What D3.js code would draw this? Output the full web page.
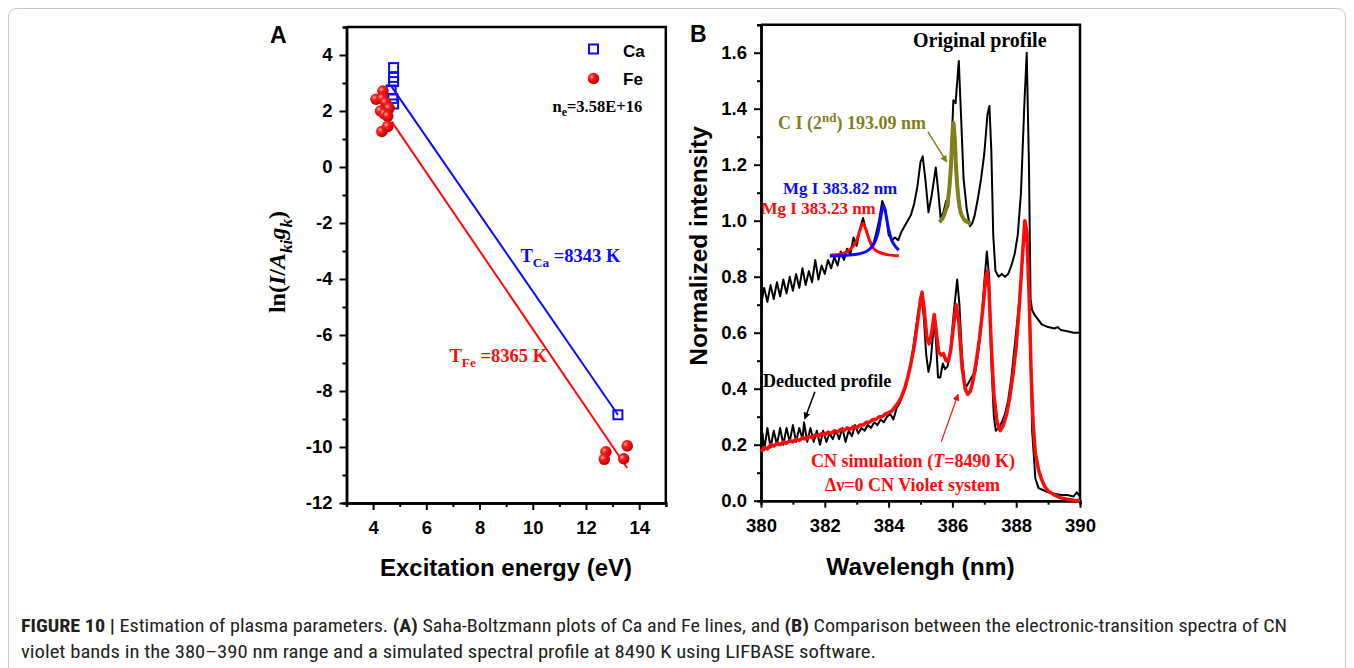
<!DOCTYPE html>
<html>
<head>
<meta charset="utf-8">
<script src="https://cdn.jsdelivr.net/npm/d3@7"></script>
<style>
  body { margin: 0; background: #fff; }
  svg { display: block; font-family: "Liberation Sans", Arial, sans-serif; }
  .serif { font-family: "Liberation Serif", "Times New Roman", serif; font-weight: bold; }
</style>
</head>
<body>
<svg id="fig" width="1354" height="668"></svg>
<script>
// ---- panel A : Saha-Boltzmann plot (excitation energy eV, ln(I/Aki gk))
const caPoints = [[4.77, 3.55], [4.77, 3.2], [4.77, 3.05], [4.68, 2.75], [4.74, 2.45], [4.77, 2.25], [13.2, -8.85]];
const fePoints = [[4.11, 2.42], [4.37, 2.71], [4.35, 2.45], [4.47, 2.3], [4.6, 2.1], [4.28, 2.0],
                  [4.42, 1.9], [4.55, 1.82], [4.33, 1.27], [4.55, 1.45],
                  [12.75, -10.17], [12.69, -10.44], [13.55, -9.96], [13.42, -10.42]];
const caFit = [[4.7, 2.86], [13.2, -8.85]];
const feFit = [[4.7, 1.62], [13.55, -10.75]];
const xTicksA = [4, 6, 8, 10, 12, 14];
const xMinorA = [3, 5, 7, 9, 11, 13, 15];
const yTicksA = [-12, -10, -8, -6, -4, -2, 0, 2, 4];
const yMinorA = [-11, -9, -7, -5, -3, -1, 1, 3];

// ---- panel B : spectra (wavelength nm, normalized intensity)
const originalProfile = [
  [380.0, 0.70], [380.1, 0.76], [380.2, 0.71], [380.3, 0.77], [380.4, 0.72], [380.5, 0.78], [380.6, 0.73],
  [380.7, 0.79], [380.8, 0.74], [380.9, 0.80], [381.0, 0.75], [381.1, 0.81], [381.2, 0.76], [381.3, 0.83],
  [381.4, 0.77], [381.5, 0.82], [381.6, 0.78], [381.7, 0.86], [381.8, 0.79], [381.9, 0.84], [382.0, 0.81],
  [382.1, 0.86], [382.2, 0.83], [382.3, 0.87], [382.4, 0.84], [382.5, 0.89], [382.6, 0.86], [382.7, 0.90],
  [382.8, 0.88], [382.9, 0.94], [383.0, 0.91], [383.1, 0.97], [383.2, 1.01], [383.3, 0.96], [383.4, 0.93],
  [383.5, 0.91], [383.6, 0.95], [383.7, 1.00], [383.8, 1.07], [383.9, 1.04], [384.0, 0.95], [384.1, 0.93],
  [384.2, 0.94], [384.3, 0.93], [384.4, 0.96], [384.5, 0.98], [384.6, 1.00], [384.7, 1.02], [384.8, 1.06],
  [384.9, 1.12], [385.0, 1.21], [385.07, 1.23], [385.15, 1.15], [385.25, 1.03], [385.35, 1.09], [385.48, 1.19],
  [385.56, 1.10], [385.63, 1.01], [385.72, 1.03], [385.8, 1.07], [385.87, 1.05], [385.95, 1.20], [386.03, 1.43],
  [386.1, 1.42], [386.2, 1.57], [386.28, 1.35], [386.35, 1.15], [386.45, 1.04], [386.55, 0.98], [386.62, 0.99],
  [386.7, 1.02], [386.8, 1.08], [386.9, 1.15], [387.0, 1.24], [387.1, 1.38], [387.16, 1.41], [387.22, 1.25],
  [387.28, 0.95], [387.35, 0.82], [387.45, 0.80], [387.55, 0.81], [387.65, 0.80], [387.75, 0.81], [387.85, 0.84],
  [387.95, 0.88], [388.05, 0.95], [388.15, 1.10], [388.25, 1.40], [388.33, 1.60], [388.4, 1.20], [388.45, 0.72],
  [388.5, 0.68], [388.6, 0.66], [388.8, 0.63], [389.0, 0.62], [389.2, 0.615], [389.3, 0.62], [389.4, 0.61],
  [389.6, 0.605], [389.8, 0.60], [390.0, 0.60]
];
const deductedProfile = [
  [380.0, 0.20], [380.05, 0.24], [380.1, 0.18], [380.2, 0.26], [380.3, 0.19], [380.4, 0.25], [380.5, 0.20],
  [380.6, 0.26], [380.7, 0.20], [380.8, 0.26], [380.9, 0.21], [381.0, 0.27], [381.1, 0.21], [381.2, 0.26],
  [381.3, 0.22], [381.35, 0.28], [381.45, 0.21], [381.55, 0.26], [381.65, 0.21], [381.75, 0.25], [381.85, 0.20],
  [381.95, 0.25], [382.05, 0.21], [382.15, 0.24], [382.25, 0.22], [382.35, 0.25], [382.45, 0.22], [382.55, 0.26],
  [382.65, 0.21], [382.75, 0.25], [382.85, 0.23], [382.95, 0.27], [383.05, 0.24], [383.15, 0.26], [383.25, 0.25],
  [383.35, 0.27], [383.45, 0.26], [383.55, 0.28], [383.65, 0.27], [383.75, 0.29], [383.85, 0.28], [383.95, 0.30],
  [384.05, 0.31], [384.15, 0.29], [384.25, 0.33], [384.35, 0.35], [384.45, 0.38], [384.55, 0.41], [384.65, 0.46],
  [384.75, 0.53], [384.85, 0.61], [384.95, 0.69], [385.03, 0.73], [385.1, 0.66], [385.18, 0.52], [385.25, 0.46],
  [385.32, 0.50], [385.42, 0.63], [385.48, 0.58], [385.55, 0.44], [385.62, 0.44], [385.7, 0.49], [385.77, 0.47],
  [385.85, 0.48], [385.95, 0.55], [386.05, 0.68], [386.15, 0.79], [386.22, 0.70], [386.3, 0.52], [386.38, 0.42],
  [386.45, 0.41], [386.55, 0.43], [386.65, 0.45], [386.72, 0.46], [386.8, 0.52], [386.9, 0.62], [387.0, 0.78],
  [387.08, 0.89], [387.15, 0.80], [387.22, 0.50], [387.3, 0.30], [387.36, 0.25], [387.45, 0.26], [387.55, 0.28],
  [387.65, 0.31], [387.75, 0.36], [387.85, 0.44], [387.95, 0.55], [388.05, 0.66], [388.15, 0.78], [388.22, 0.92],
  [388.28, 1.00], [388.35, 0.95], [388.42, 0.70], [388.5, 0.25], [388.6, 0.08], [388.7, 0.045], [388.8, 0.04],
  [389.0, 0.03], [389.2, 0.025], [389.4, 0.02], [389.6, 0.02], [389.8, 0.015], [389.9, 0.03], [390.0, 0.015]
];
const cnSimulation = [
  [380.0, 0.175], [380.1, 0.19], [380.2, 0.185], [380.3, 0.20], [380.4, 0.195], [380.5, 0.205], [380.6, 0.20],
  [380.7, 0.21], [380.8, 0.205], [380.9, 0.215], [381.0, 0.21], [381.1, 0.22], [381.2, 0.215], [381.3, 0.225],
  [381.4, 0.22], [381.5, 0.23], [381.6, 0.225], [381.7, 0.235], [381.8, 0.23], [381.9, 0.24], [382.0, 0.235],
  [382.1, 0.245], [382.2, 0.24], [382.3, 0.25], [382.4, 0.245], [382.5, 0.255], [382.6, 0.25], [382.7, 0.26],
  [382.8, 0.255], [382.9, 0.265], [383.0, 0.26], [383.1, 0.27], [383.2, 0.27], [383.3, 0.28], [383.4, 0.28],
  [383.5, 0.29], [383.6, 0.29], [383.7, 0.30], [383.8, 0.30], [383.9, 0.31], [384.0, 0.315], [384.1, 0.32],
  [384.2, 0.335], [384.3, 0.35], [384.4, 0.37], [384.5, 0.40], [384.6, 0.44], [384.7, 0.49], [384.8, 0.55],
  [384.9, 0.63], [385.0, 0.72], [385.05, 0.745], [385.12, 0.68], [385.2, 0.58], [385.27, 0.56], [385.35, 0.60],
  [385.43, 0.665], [385.5, 0.60], [385.57, 0.53], [385.65, 0.52], [385.72, 0.525], [385.8, 0.50], [385.88, 0.50],
  [385.95, 0.54], [386.03, 0.62], [386.12, 0.70], [386.2, 0.64], [386.3, 0.48], [386.4, 0.40], [386.48, 0.38],
  [386.56, 0.39], [386.65, 0.43], [386.75, 0.50], [386.85, 0.58], [386.95, 0.68], [387.05, 0.80], [387.1, 0.82],
  [387.15, 0.75], [387.22, 0.55], [387.3, 0.38], [387.4, 0.28], [387.5, 0.25], [387.6, 0.27], [387.7, 0.31],
  [387.8, 0.37], [387.9, 0.45], [388.0, 0.55], [388.1, 0.70], [388.2, 0.88], [388.27, 1.00], [388.33, 0.96],
  [388.4, 0.75], [388.47, 0.45], [388.53, 0.28], [388.6, 0.17], [388.7, 0.11], [388.8, 0.075], [388.9, 0.05],
  [389.0, 0.035], [389.2, 0.02], [389.4, 0.01], [389.6, 0.005], [389.8, 0.002], [390.0, 0.0]
];
const cLine = [[385.59, 0.995], [385.7, 1.01], [385.8, 1.04], [385.88, 1.09], [385.94, 1.17], [385.99, 1.28],
               [386.03, 1.35], [386.07, 1.30], [386.12, 1.18], [386.18, 1.09], [386.26, 1.03], [386.36, 1.005],
               [386.47, 0.995], [386.58, 0.99]];
const mg38323 = [[382.16, 0.877], [382.5, 0.88], [382.7, 0.89], [382.9, 0.91], [383.0, 0.93], [383.1, 0.965],
                 [383.2, 0.99], [383.3, 0.965], [383.4, 0.93], [383.5, 0.905], [383.65, 0.89], [383.8, 0.883],
                 [384.0, 0.878], [384.32, 0.875]];
const mg38382 = [[382.16, 0.874], [382.6, 0.876], [383.0, 0.88], [383.3, 0.89], [383.5, 0.91], [383.65, 0.95],
                 [383.75, 1.01], [383.84, 1.056], [383.92, 1.02], [384.0, 0.97], [384.1, 0.93], [384.2, 0.91],
                 [384.32, 0.895]];
const xTicksB = [380, 382, 384, 386, 388, 390];
const xMinorB = [381, 383, 385, 387, 389];
const yTicksB = [0, 0.2, 0.4, 0.6, 0.8, 1.0, 1.2, 1.4, 1.6];
const yMinorB = [0.1, 0.3, 0.5, 0.7, 0.9, 1.1, 1.3, 1.5];

const BLUE = "#0a0aff", RED = "#ff0a0a", OLIVE = "#80801a";
const SANS = "'Liberation Sans', Arial, sans-serif";

const svg = d3.select("#fig");
svg.append("rect").attr("width", 1354).attr("height", 668).attr("fill", "#fff");
svg.append("rect").attr("x", 8.5).attr("y", 8.5).attr("width", 1337).attr("height", 720).attr("rx", 8)
  .attr("fill", "none").attr("stroke", "#c8c8c8").attr("stroke-width", 1);

const defs = svg.append("defs");
const grad = defs.append("radialGradient").attr("id", "sphere").attr("cx", "35%").attr("cy", "35%").attr("r", "65%");
grad.append("stop").attr("offset", "0%").attr("stop-color", "#ffb0b0");
grad.append("stop").attr("offset", "35%").attr("stop-color", "#ff1a1a");
grad.append("stop").attr("offset", "100%").attr("stop-color", "#c00000");
[["arrK", "#000"], ["arrR", RED], ["arrO", OLIVE]].forEach(([id, c]) => {
  defs.append("marker").attr("id", id).attr("viewBox", "0 0 10 10").attr("refX", 9).attr("refY", 5)
    .attr("markerWidth", 7).attr("markerHeight", 7).attr("markerUnits", "userSpaceOnUse").attr("orient", "auto")
    .append("path").attr("d", "M0,0 L10,5 L0,10 z").attr("fill", c);
});

// text with sub / superscripts: parts = [[text, "sub"|"sup"|null, italic]]
function richText(g, x, y, parts, size, color, anchor) {
  const t = g.append("text").attr("x", x).attr("y", y).attr("class", "serif")
    .attr("font-size", size).attr("fill", color).attr("text-anchor", anchor || "start");
  let shift = 0;
  parts.forEach(([s, kind, it]) => {
    const target = kind === "sub" ? 0.3 * size : kind === "sup" ? -0.38 * size : 0;
    const sp = t.append("tspan").attr("dy", target - shift).text(s);
    if (kind) sp.attr("font-size", size * 0.72);
    if (it) sp.attr("font-style", "italic");
    shift = target;
  });
  return t;
}

function frame(g, x, y, yTicks, yMinor, xTicks, xMinor, fmtY) {
  const [x0, x1] = x.range(), [y0, y1] = y.range();
  g.append("g").attr("transform", `translate(0,${y0})`)
    .call(d3.axisBottom(x).tickValues(xMinor).tickSize(4).tickFormat(""));
  g.append("g").attr("transform", `translate(0,${y0})`)
    .call(d3.axisBottom(x).tickValues(xTicks).tickSize(7).tickPadding(11).tickSizeOuter(0));
  g.append("g").attr("transform", `translate(${x0},0)`)
    .call(d3.axisLeft(y).tickValues(yMinor).tickSize(4).tickFormat(""));
  g.append("g").attr("transform", `translate(${x0},0)`)
    .call(d3.axisLeft(y).tickValues(yTicks).tickSize(7).tickPadding(7).tickSizeOuter(0).tickFormat(fmtY));
  g.selectAll(".tick line").attr("stroke-width", 2);
  g.selectAll(".domain").attr("stroke-width", 2.5);
  g.selectAll(".tick text").attr("font-size", 18.5).attr("font-weight", "bold")
    .attr("font-family", SANS).attr("fill", "#000");
  g.append("path").attr("d", `M${x0},${y1}H${x1}V${y0}`).attr("fill", "none")
    .attr("stroke", "#000").attr("stroke-width", 2.5);
}

// ================= panel A
const gA = svg.append("g");
const xA = d3.scaleLinear().domain([3, 15]).range([346.5, 665.8]);
const yA = d3.scaleLinear().domain([-12, 5]).range([503, 27]);
frame(gA, xA, yA, yTicksA, yMinorA, xTicksA, xMinorA, d => String(d));   // plain hyphen minus like the original

const lineA = d3.line().x(d => xA(d[0])).y(d => yA(d[1]));
gA.append("path").attr("d", lineA(caFit)).attr("stroke", BLUE).attr("stroke-width", 2).attr("fill", "none");
gA.append("path").attr("d", lineA(feFit)).attr("stroke", RED).attr("stroke-width", 2).attr("fill", "none");

gA.selectAll(".ca").data(caPoints).join("rect")
  .attr("x", d => xA(d[0]) - 4.5).attr("y", d => yA(d[1]) - 4.5).attr("width", 9).attr("height", 9)
  .attr("fill", "none").attr("stroke", BLUE).attr("stroke-width", 2);
gA.selectAll(".fe").data(fePoints).join("circle")
  .attr("cx", d => xA(d[0])).attr("cy", d => yA(d[1])).attr("r", 5.8).attr("fill", "url(#sphere)");

gA.append("text").attr("x", 270).attr("y", 43).attr("font-size", 23).attr("font-weight", "bold").text("A");
// legend
gA.append("rect").attr("x", 589).attr("y", 44.5).attr("width", 9).attr("height", 9)
  .attr("fill", "none").attr("stroke", BLUE).attr("stroke-width", 2);
gA.append("text").attr("x", 623).attr("y", 56.5).attr("font-size", 17).attr("font-weight", "bold").text("Ca");
gA.append("circle").attr("cx", 593.5).attr("cy", 78.5).attr("r", 5.8).attr("fill", "url(#sphere)");
gA.append("text").attr("x", 623).attr("y", 85).attr("font-size", 17).attr("font-weight", "bold").text("Fe");
richText(gA, 552.5, 111.5, [["n"], ["e", "sub"], ["=3.58E+16"]], 16.5, "#000");
richText(gA, 520.5, 261.5, [["T"], ["Ca", "sub"], [" =8343 K"]], 18.5, BLUE);
richText(gA, 449.5, 361.5, [["T"], ["Fe", "sub"], [" =8365 K"]], 18.5, RED);

gA.append("text").attr("x", 506).attr("y", 576).attr("text-anchor", "middle")
  .attr("font-size", 24).attr("font-weight", "bold").text("Excitation energy (eV)");
const yTitleA = richText(gA, 0, 0, [["ln("], ["I", null, true], ["/"], ["A", null, true], ["ki", "sub", true],
  ["g", null, true], ["k", "sub", true], [")"]], 24, "#000", "middle");
yTitleA.attr("transform", "translate(285,262) rotate(-90)");

// ================= panel B
const gB = svg.append("g");
const xB = d3.scaleLinear().domain([380, 390]).range([761, 1080]);
const yB = d3.scaleLinear().domain([0, 1.7]).range([500.7, 24.7]);
frame(gB, xB, yB, yTicksB, yMinorB, xTicksB, xMinorB, d3.format(".1f"));

const lineB = d3.line().x(d => xB(d[0])).y(d => yB(d[1]));
gB.append("path").attr("d", lineB(originalProfile)).attr("stroke", "#000").attr("stroke-width", 2)
  .attr("fill", "none").attr("stroke-linejoin", "round");
gB.append("path").attr("d", lineB.curve(d3.curveCatmullRom)(mg38323)).attr("stroke", RED).attr("stroke-width", 3).attr("fill", "none");
gB.append("path").attr("d", lineB(mg38382)).attr("stroke", BLUE).attr("stroke-width", 3).attr("fill", "none");
gB.append("path").attr("d", lineB(cLine)).attr("stroke", OLIVE).attr("stroke-width", 4).attr("fill", "none");
lineB.curve(d3.curveLinear);
gB.append("path").attr("d", lineB(deductedProfile)).attr("stroke", "#000").attr("stroke-width", 2)
  .attr("fill", "none").attr("stroke-linejoin", "round");
gB.append("path").attr("d", lineB(cnSimulation)).attr("stroke", RED).attr("stroke-width", 3.5)
  .attr("fill", "none").attr("stroke-linejoin", "round");

// annotations
function arrow(g, from, to, color, marker, w) {
  g.append("line").attr("x1", xB(from[0])).attr("y1", yB(from[1])).attr("x2", xB(to[0])).attr("y2", yB(to[1]))
    .attr("stroke", color).attr("stroke-width", w).attr("marker-end", `url(#${marker})`);
}
arrow(gB, [381.69, 0.389], [381.37, 0.292], "#000", "arrK", 1.5);
arrow(gB, [385.65, 0.21], [386.18, 0.38], RED, "arrR", 1.2);
arrow(gB, [385.23, 1.318], [385.82, 1.21], OLIVE, "arrO", 1.5);

gB.append("text").attr("x", 690).attr("y", 42).attr("font-size", 23).attr("font-weight", "bold").text("B");
richText(gB, 913, 46.5, [["Original profile"]], 20, "#000");
richText(gB, 778, 128.5, [["C I (2"], ["nd", "sup"], [") 193.09 nm"]], 18, OLIVE);
richText(gB, 783, 193.5, [["Mg I 383.82 nm"]], 17, BLUE);
richText(gB, 761.5, 214, [["Mg I 383.23 nm"]], 17, RED);
richText(gB, 763, 386.5, [["Deducted profile"]], 18, "#000");
richText(gB, 913, 466.5, [["CN simulation ("], ["T", null, true], ["=8490 K)"]], 18, RED, "middle");
richText(gB, 912.5, 490.5, [["\u0394\u03bd=0 CN Violet system"]], 18, RED, "middle");

gB.append("text").attr("x", 920.5).attr("y", 575).attr("text-anchor", "middle")
  .attr("font-size", 24.5).attr("font-weight", "bold").text("Wavelengh (nm)");
gB.append("text").attr("transform", "translate(707,246) rotate(-90)").attr("text-anchor", "middle")
  .attr("font-size", 24.5).attr("font-weight", "bold").text("Normalized intensity");

// ================= caption
const cap = svg.append("g").attr("font-size", 18).attr("fill", "#231f20")
  .attr("font-family", "'Liberation Sans Narrow', 'Roboto Condensed', 'Liberation Sans', sans-serif");
const c1 = cap.append("text").attr("x", 21).attr("y", 632).attr("textLength", 1266).attr("lengthAdjust", "spacingAndGlyphs");
c1.append("tspan").attr("font-weight", "bold").text("FIGURE 10 | ");
c1.append("tspan").text("Estimation of plasma parameters. ");
c1.append("tspan").attr("font-weight", "bold").text("(A)");
c1.append("tspan").text(" Saha-Boltzmann plots of Ca and Fe lines, and ");
c1.append("tspan").attr("font-weight", "bold").text("(B)");
c1.append("tspan").text(" Comparison between the electronic-transition spectra of CN");
cap.append("text").attr("x", 21).attr("y", 658).attr("textLength", 855).attr("lengthAdjust", "spacingAndGlyphs")
  .text("violet bands in the 380\u2013390 nm range and a simulated spectral profile at 8490 K using LIFBASE software.");
</script>
</body>
</html>
